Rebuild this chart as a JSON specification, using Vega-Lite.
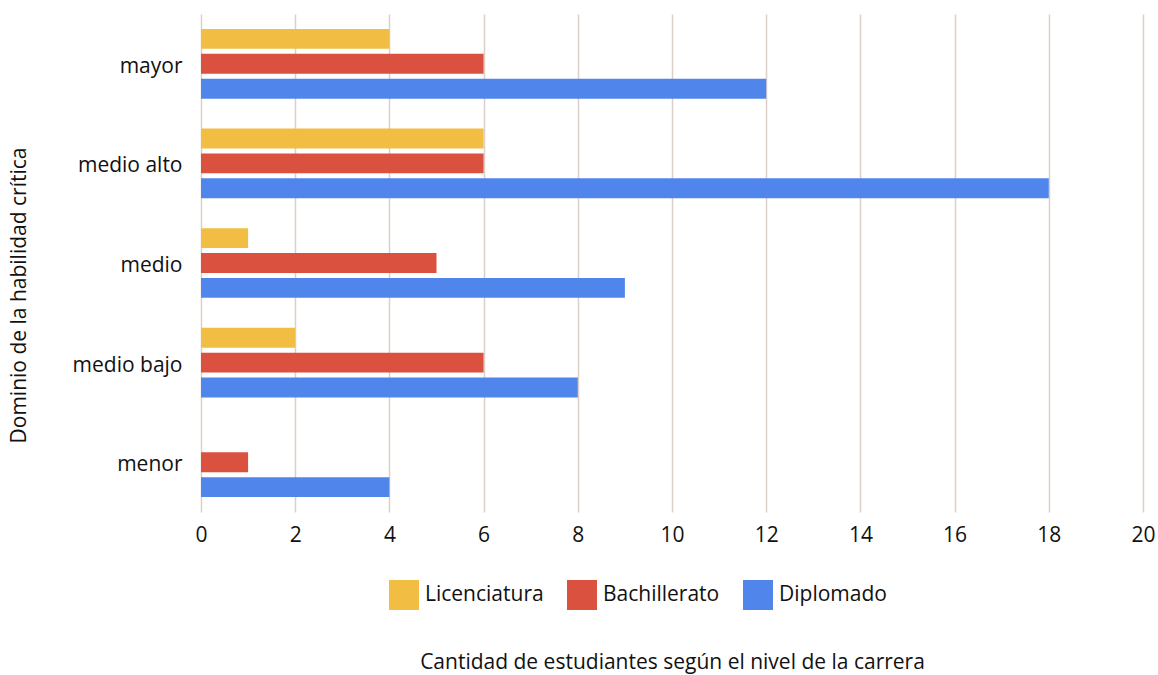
{
  "$schema": "https://vega.github.io/schema/vega-lite/v6.json",
  "autosize": {"type": "none"},
  "width": 942,
  "height": 498,
  "padding": {"left": 201, "top": 14, "right": 15, "bottom": 163},
  "background": "white",
  "config": {
    "font": "Open Sans",
    "view": {"stroke": null}
  },
  "data": {
    "values": [
      {"nivel": "mayor", "serie": "Licenciatura", "n": 4},
      {"nivel": "mayor", "serie": "Bachillerato", "n": 6},
      {"nivel": "mayor", "serie": "Diplomado", "n": 12},
      {"nivel": "medio alto", "serie": "Licenciatura", "n": 6},
      {"nivel": "medio alto", "serie": "Bachillerato", "n": 6},
      {"nivel": "medio alto", "serie": "Diplomado", "n": 18},
      {"nivel": "medio", "serie": "Licenciatura", "n": 1},
      {"nivel": "medio", "serie": "Bachillerato", "n": 5},
      {"nivel": "medio", "serie": "Diplomado", "n": 9},
      {"nivel": "medio bajo", "serie": "Licenciatura", "n": 2},
      {"nivel": "medio bajo", "serie": "Bachillerato", "n": 6},
      {"nivel": "medio bajo", "serie": "Diplomado", "n": 8},
      {"nivel": "menor", "serie": "Licenciatura", "n": 0},
      {"nivel": "menor", "serie": "Bachillerato", "n": 1},
      {"nivel": "menor", "serie": "Diplomado", "n": 4}
    ]
  },
  "mark": {"type": "bar"},
  "encoding": {
    "y": {
      "field": "nivel",
      "type": "nominal",
      "sort": ["mayor", "medio alto", "medio", "medio bajo", "menor"],
      "scale": {"paddingInner": 0.3, "paddingOuter": 0.15},
      "axis": {
        "title": "Dominio de la habilidad crítica",
        "titleFontSize": 21,
        "titleFontWeight": "normal",
        "titleColor": "#111111",
        "titleX": -172,
        "titleY": 281,
        "titleAnchor": null,
        "domain": false,
        "ticks": false,
        "labelFontSize": 21,
        "labelColor": "#111111",
        "labelPadding": 19,
        "labelBaseline": "middle",
        "labelOffset": 3
      }
    },
    "yOffset": {
      "field": "serie",
      "type": "nominal",
      "sort": ["Licenciatura", "Bachillerato", "Diplomado"],
      "scale": {"paddingInner": 0.2, "paddingOuter": 0}
    },
    "x": {
      "field": "n",
      "type": "quantitative",
      "scale": {"domain": [0, 20], "nice": false},
      "axis": {
        "title": "Cantidad de estudiantes según el nivel de la carrera",
        "titleFontSize": 21,
        "titleFontWeight": "normal",
        "titleColor": "#111111",
        "titleY": 150,
        "titleBaseline": "middle",
        "values": [0, 2, 4, 6, 8, 10, 12, 14, 16, 18, 20],
        "domain": false,
        "ticks": false,
        "grid": true,
        "gridColor": "#DCCFC7",
        "gridWidth": 1.5,
        "labelFlush": false,
        "labelFontSize": 21,
        "labelColor": "#111111",
        "labelPadding": 12
      }
    },
    "color": {
      "field": "serie",
      "type": "nominal",
      "sort": ["Licenciatura", "Bachillerato", "Diplomado"],
      "scale": {
        "domain": ["Licenciatura", "Bachillerato", "Diplomado"],
        "range": ["#F1BE43", "#DA5140", "#5086EC"]
      },
      "legend": {
        "title": null,
        "orient": "none",
        "direction": "horizontal",
        "legendX": 188,
        "legendY": 566,
        "symbolType": "square",
        "symbolSize": 900,
        "symbolStrokeWidth": 0,
        "symbolOpacity": 1,
        "labelFontSize": 21,
        "labelColor": "#111111",
        "labelOffset": 6,
        "columnPadding": 23
      }
    }
  }
}
